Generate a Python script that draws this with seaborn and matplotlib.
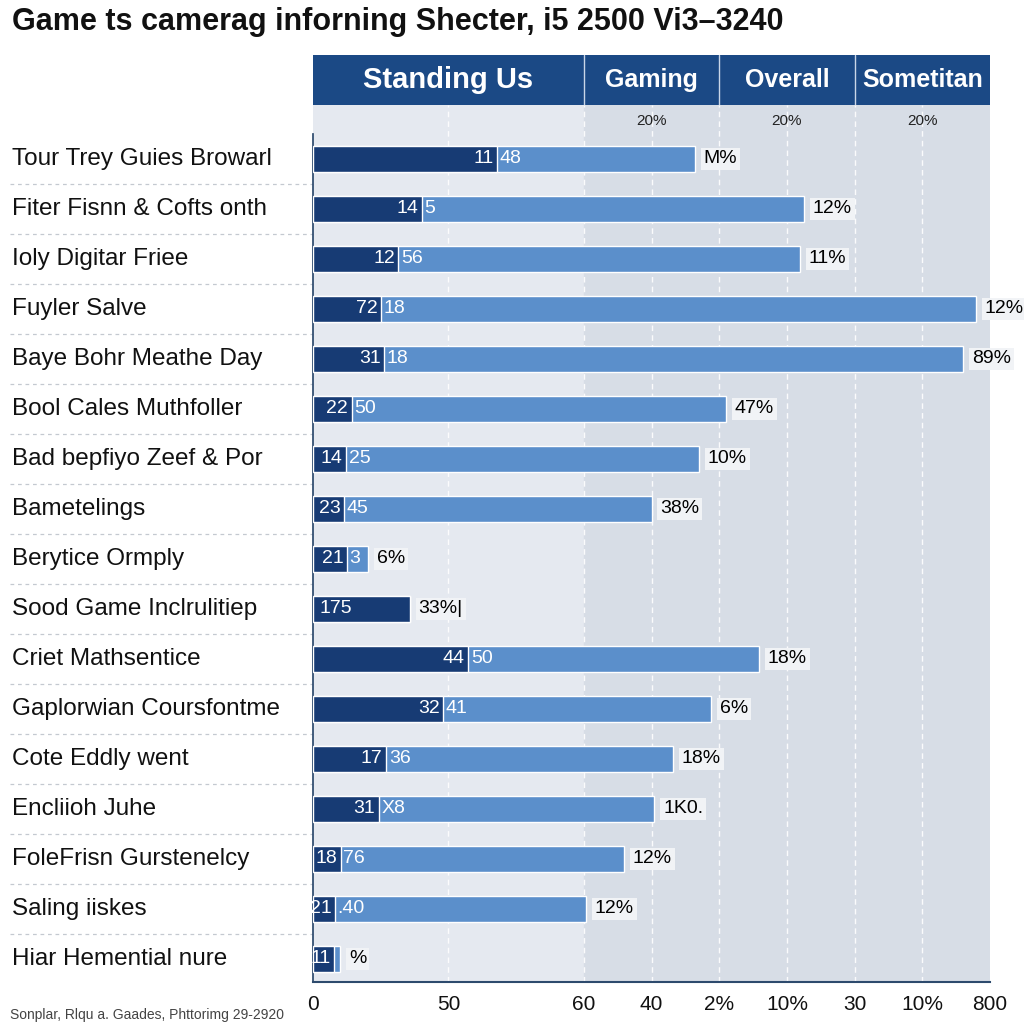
import matplotlib
matplotlib.use("Agg")
import matplotlib.pyplot as plt
import matplotlib.transforms as mtransforms
from matplotlib.lines import Line2D
import seaborn as sns
import pandas as pd

sns.set_theme(style="white")
plt.rcParams['font.family'] = ['Liberation Sans', 'DejaVu Sans']

TITLE = "Game ts camerag inforning Shecter, i5 2500 Vi3\u20133240"
FOOTER = "Sonplar, Rlqu a. Gaades, Phttorimg 29-2920"

categories = [
    "Tour Trey Guies Browarl", "Fiter Fisnn & Cofts onth", "Ioly Digitar Friee",
    "Fuyler Salve", "Baye Bohr Meathe Day", "Bool Cales Muthfoller",
    "Bad bepfiyo Zeef & Por", "Bametelings", "Berytice Ormply",
    "Sood Game Inclrulitiep", "Criet Mathsentice", "Gaplorwian Coursfontme",
    "Cote Eddly went", "Encliioh Juhe", "FoleFrisn Gurstenelcy",
    "Saling iiskes", "Hiar Hemential nure",
]
dark_end = [27.2, 16.1, 12.6, 10.0, 10.5, 5.7, 4.9, 4.6, 5.0, 14.3,
            22.9, 19.2, 10.8, 9.7, 4.1, 3.2, 3.1]
total_end = [56.4, 72.5, 71.9, 97.9, 96.0, 61.0, 57.0, 50.0, 8.1, 14.3,
             65.9, 58.8, 53.2, 50.4, 45.9, 40.3, 4.0]
dark_txt = ["11", "14", "12", "72", "31", "22", "14", "23", "21", "175",
            "44", "32", "17", "31", "18", "21", "11"]
light_txt = ["48", "5", "56", "18", "18", "50", "25", "45", "3", "",
             "50", "41", "36", "X8", "76", ".40", ""]
end_txt = ["M%", "12%", "11%", "12%", "89%", "47%", "10%", "38%", "6%", "33%|",
           "18%", "6%", "18%", "1K0.", "12%", "12%", "%"]

tick_pos = [0, 20, 40, 50, 60, 70, 80, 90, 100]
tick_txt = ["0", "50", "60", "40", "2%", "10%", "30", "10%", "800"]

header_txt = ["Standing Us", "Gaming", "Overall", "Sometitan"]
header_pos = [20, 50, 70, 90]
header_sep = [40, 60, 80]
sub_txt = ["20%", "20%", "20%"]
sub_pos = [50, 70, 90]

DARK = "#173b74"
LIGHT = "#5b8fcb"
HEAD = "#1b4985"

df = pd.DataFrame({"cat": categories, "dark": dark_end, "total": total_end})

fig = plt.figure(figsize=(10.24, 10.24), dpi=100)
W = H = 1024.0
ax = fig.add_axes([313 / W, 1 - 982 / H, 677 / W, (982 - 105) / H])
ax.set_facecolor("#e5e9f0")
ax.axvspan(40, 100, color="#d7dde6", zorder=0)

sns.barplot(data=df, x="total", y="cat", order=categories, color=LIGHT,
            width=0.52, ax=ax, orient="h", saturation=1, zorder=2)
sns.barplot(data=df, x="dark", y="cat", order=categories, color=DARK,
            width=0.52, ax=ax, orient="h", saturation=1, zorder=3)

ax.set_xlim(0, 100)
ax.set_ylim(16.46, -1.08)
ax.set_xlabel("")
ax.set_ylabel("")

for x in [20, 40, 50, 60, 70, 80, 90]:
    ax.axvline(x, color="white", lw=1.0, ls=(0, (4, 3)), alpha=0.9, zorder=1)

for i in range(len(categories)):
    d, t = dark_end[i], total_end[i]
    if t <= d:
        ax.text(1.0, i, dark_txt[i], color="white", fontsize=14, va="center",
                ha="left", zorder=4)
    else:
        ax.text(d - 0.5, i, dark_txt[i], color="white", fontsize=14, va="center",
                ha="right", zorder=4)
        ax.text(d + 0.4, i, light_txt[i], color="white", fontsize=14, va="center",
                ha="left", zorder=4)
    ax.text(t + 1.3, i, end_txt[i], color="black", fontsize=14, va="center",
            ha="left", zorder=4,
            bbox=dict(boxstyle="square,pad=0.15", fc="#f1f3f6", ec="none"))

for i, s in enumerate(sub_txt):
    ax.text(sub_pos[i], -0.76, s, fontsize=11, ha="center", va="center", color="#222222")

ax.set_xticks(tick_pos)
ax.set_xticklabels(tick_txt, fontsize=15, color="#111111")
ax.set_yticks([i + 0.5 for i in range(-1, len(categories) - 1)])
ax.set_yticklabels([])
ax.tick_params(axis="x", direction="out", length=7, width=1.2, color="#2d4a6d", pad=2)
ax.tick_params(axis="y", direction="out", length=6, width=1.0, color="#5a6d85")
for side in ["top", "right"]:
    ax.spines[side].set_visible(False)
ax.spines["left"].set_bounds(16.46, -0.5)
ax.spines["left"].set_color("#2d4a6d")
ax.spines["bottom"].set_color("#2d4a6d")
ax.spines["bottom"].set_linewidth(1.5)

# row labels and dashed separators in the label column
trans = mtransforms.blended_transform_factory(fig.transFigure, ax.transData)
for i, c in enumerate(categories):
    ax.text(12 / W, i, c, transform=trans, fontsize=17.5, ha="left", va="center",
            color="#111111", clip_on=False)
for i in range(len(categories) - 1):
    ax.add_line(Line2D([10 / W, 313 / W], [i + 0.5, i + 0.5], transform=trans,
                       color="#c4c9d0", lw=0.9, ls=(0, (3, 3)), clip_on=False))

# header band
hx = fig.add_axes([313 / W, 1 - 105 / H, 677 / W, 50 / H])
hx.set_facecolor(HEAD)
hx.set_xlim(0, 100)
hx.set_ylim(0, 1)
hx.set_xticks([])
hx.set_yticks([])
for s in hx.spines.values():
    s.set_visible(False)
for x in header_sep:
    hx.axvline(x, color="#c9d6e8", lw=1.0)
for i, s in enumerate(header_txt):
    hx.text(header_pos[i], 0.5, s, color="white", fontsize=21 if i == 0 else 18,
            fontweight="bold", ha="center", va="center")

fig.text(12 / W, 1 - 22 / H, TITLE, fontsize=22, fontweight="bold", ha="left",
         va="center", color="#111111")
fig.text(10 / W, 1 - 1015 / H, FOOTER, fontsize=10, ha="left", va="center",
         color="#444444")

fig.savefig("out.png", dpi=100)
